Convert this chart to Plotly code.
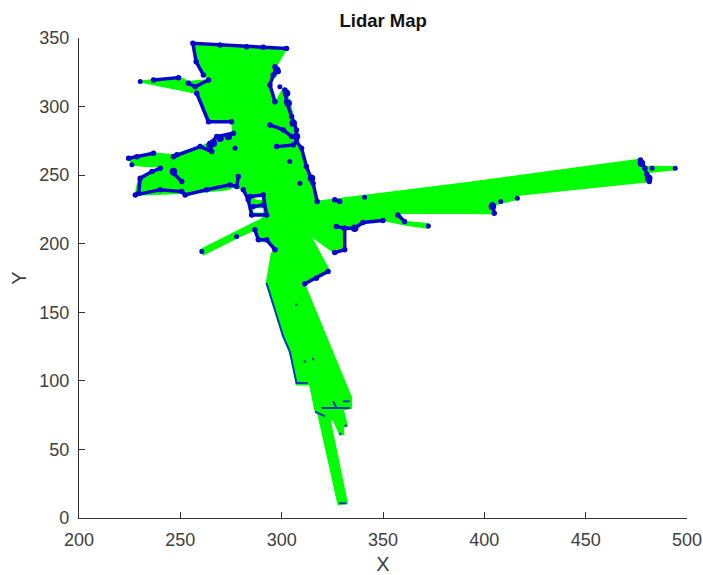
import plotly.graph_objects as go

title_text = "Lidar Map"
x_ticks = [200, 250, 300, 350, 400, 450, 500]
y_ticks = [0, 50, 100, 150, 200, 250, 300, 350]

# scanned free space outline
free_x = [256.2, 302.4, 296.7, 297.5, 293.4, 296.7, 300.8, 304, 305.7, 308.1, 312.2, 317.2,
          392.6, 477, 479.5, 494.2, 494.2, 480.3, 481.1,
          417.2, 416.3, 416.3, 408, 404.9, 404.9, 392.6, 358.1, 360.6, 372.4, 372.4, 360.6, 350.8,
          340.1, 335.2, 331.1, 331.1, 326.2, 313.9, 323.7, 318, 311.4,
          334.4, 334.4, 330.3, 332.3, 330.3, 330.6, 328.7, 325.4, 323.8, 332.3, 327.9, 318, 316.4,
          313.9, 307.4, 305.7, 300, 292.5, 295, 296.6, 295, 289.3, 286.8, 278.6, 261.4, 259.8,
          289.3, 292.6, 285.2, 283.5, 281.1, 277, 272.9, 253.2, 250.7, 227.8, 229.4, 236, 240.1,
          233.5, 226.1, 224.5, 236.8, 245.8, 259.8, 276.2, 275.3, 263.9, 258.1, 229.4, 236.8,
          249.1, 254, 263.9, 257.3]
free_y = [346.1, 342.4, 327.9, 323, 315.7, 302.4, 313.3, 303.6, 292.7, 273.2, 256.3, 230.8,
          244.6, 261.6, 256.4, 256, 254, 252, 245.3,
          235.6, 234, 232.5, 229.5, 228, 221.8, 222.3, 222.3, 216.2, 214.5, 211.3, 213.8, 216.9,
          216.2, 210.6, 210.6, 195.6, 193.1, 206.5, 179.8, 176.1, 170.1,
          87.5, 80.2, 79, 66.9, 66.9, 60.8, 60.8, 71.7, 71.7, 11, 9.8, 75.4, 79,
          97.2, 97.2, 113, 137.3, 171.3, 193.1, 195.6, 201.6, 201.6, 210.1, 204.8, 191.9, 195.6,
          217.4, 221, 221, 232, 239.3, 241.7, 239.3, 236.8, 236.8, 235.6, 247.8, 252.6, 256.3,
          256.3, 257.5, 262.3, 266, 264.8, 270.8, 280.5, 289, 289, 309.7, 318.2, 319.4,
          321.8, 318.2, 319.4, 332.7]

# unscanned pockets inside the outline
pocket_x = [286.8, 290.9, 290.9, 286.8, None, 286, 290.9, 290.9, 286, None]
pocket_y = [235.6, 235.6, 232, 232, None, 225.9, 225.9, 222.8, 222.8, None]

# lidar hits: obstacle walls, None breaks a run
wall_x = [302.4, 290.9, 282.7, 269.6, 256.2, 257.8, 261.4, None,
          275.3, 263.9, 258.1, None,
          254, 257.3, 263.9, None,
          236.8, 249.1, None,
          296.7, 298.3, 295.8, 294.2, 296.7, None,
          301.6, 302.4, 304.9, 307.3, 307.3, 309.8, 312.2, 315.5, 317.5, None,
          297.5, 305.7, None,
          294.2, 300.8, 304.9, None,
          276.2, 268, 264.7, 265.5, 259.8, 248.3, 246.6, None,
          224.5, 228.6, 236.8, None,
          240.1, 236, 230.2, 229.4, 227.8, 240.1, 250.7, 252.4, 263, 274.5, 277.8, 278.6, None,
          246.6, 250.7, None,
          281.1, 283.5, 285.2, 292.6, 290.9, 284.4, None,
          286, 290.9, None,
          286.8, 288.5, 292.6, 296.7, None,
          326.2, 328.6, None,
          327, 331.1, 336, 340.1, 350, None,
          331.1, 331.1, 326.2, None,
          357.3, 360.6, None,
          322.9, 317.1, 311.4, None,
          477, 479.2, 480.3, 481.4, None,
          404, 404.9, None]
wall_y = [342.4, 343.2, 343.7, 344.9, 346.1, 332.7, 323, None,
          289, 289, 309.7, None,
          317, 314.5, 319.4, None,
          319.4, 321.1, None,
          329.1, 325.5, 323, 315.7, 303.6, None,
          312.1, 303.6, 292.7, 283, 274.5, 269.6, 256.3, 244.1, 230.8, None,
          270.8, 272, None,
          286.6, 283, 278.1, None,
          280.5, 278.1, 273.2, 267.2, 270.8, 264.8, 263.5, None,
          262.3, 263.5, 266, None,
          255, 252.6, 247.8, 236.8, 235.6, 239.3, 238, 235.6, 239.3, 242.9, 241.7, 249, None,
          251.4, 245.3, None,
          239.3, 232, 221, 221, 235.6, 234.4, None,
          227.1, 228.3, None,
          210.1, 202.8, 202.8, 195.6, None,
          232, 230.8, None,
          212.6, 211.3, 211.3, 215.5, 216.9, None,
          211.3, 195.6, 193.6, None,
          221, 216.2, None,
          179.8, 174.9, 170.8, None,
          261.1, 255, 250.2, 245.3, None,
          228.4, 222.3, None]

# fainter walls along the lower corridor
thin_x = [292.5, 296.6, 300.7, 304, 305.7, 307.3, 313, None,
          316.4, 321.3, None, 319.7, 333.6, None, 325.4, 327, None, 330.3, 333.6, None,
          328.4, 332]
thin_y = [171.3, 151.9, 132.4, 121.5, 108.1, 98.4, 98.4, None,
          77.5, 74.2, None, 80.2, 80.2, None, 85.1, 80.2, None, 85.1, 85.1, None,
          11, 10.6]

# isolated lidar hits
hit_x = [230.2, 260.6, 277, 299.1, 226.1, 304, 309, 340.9, 372.4,
         482.8, 494.2, 416.3, 408.1, 277.8]
hit_y = [318.2, 194.3, 269.6, 314.5, 257.5, 259.9, 244.1, 233.9, 213,
         255, 255, 233.2, 230.8, 205.3]

# denser clusters of hits
cluster_x = [264.7, 266.3, 269.6, 273.7, 302.4, 303.2, 305.7, 307.3, 314.7, 297.5, 246.6, 336,
             481.1, 477.5, 404]
cluster_y = [272, 273.2, 276.9, 278.1, 309.7, 302.4, 287.8, 278.1, 247.8, 326.7, 252.6, 211.3,
             247.8, 258.7, 227.2]

# small specks in the corridor and finger tips
speck_x = [307.3, 311.4, 315.5, 331.6, 329]
speck_y = [155.5, 114.2, 115.9, 67.4, 61.3]

GREEN = "#00ff00"
BLUE = "#0505cc"
GREY = "#404040"

fig = go.Figure()
fig.add_trace(go.Scatter(x=free_x, y=free_y, mode="lines", fill="toself", fillcolor=GREEN,
                         line=dict(color=GREEN, width=1.5), hoverinfo="skip", showlegend=False))
fig.add_trace(go.Scatter(x=pocket_x, y=pocket_y, mode="lines", fill="toself", fillcolor="white",
                         line=dict(color="white", width=0), hoverinfo="skip", showlegend=False))
fig.add_trace(go.Scatter(x=thin_x, y=thin_y, mode="lines", line=dict(color="#0a3cb4", width=2),
                         showlegend=False))
fig.add_trace(go.Scatter(x=wall_x, y=wall_y, mode="lines+markers",
                         line=dict(color=BLUE, width=3.5),
                         marker=dict(color=BLUE, size=5.5), showlegend=False))
fig.add_trace(go.Scatter(x=hit_x, y=hit_y, mode="markers",
                         marker=dict(color=BLUE, size=5), showlegend=False))
fig.add_trace(go.Scatter(x=cluster_x, y=cluster_y, mode="markers",
                         marker=dict(color=BLUE, size=7.5), showlegend=False))
fig.add_trace(go.Scatter(x=speck_x, y=speck_y, mode="markers",
                         marker=dict(color="#0a3cb4", size=2.5), showlegend=False))

axis_common = dict(showgrid=False, zeroline=False, showline=True, linecolor="#333333", linewidth=1.2,
                   ticks="inside", ticklen=6, tickwidth=1, tickcolor="#333333", ticklabeloverflow="allow",
                   tickfont=dict(family="Liberation Sans", size=18, color=GREY))

fig.update_xaxes(range=[200, 500], tickvals=x_ticks, ticklabelstandoff=5, **axis_common,
                 title=dict(text="X", font=dict(family="Liberation Sans", size=20, color=GREY), standoff=14))
fig.update_yaxes(range=[0, 350], tickvals=y_ticks, ticklabelstandoff=5, **axis_common,
                 title=dict(text="Y", font=dict(family="Liberation Sans", size=20, color=GREY), standoff=7))

fig.update_layout(
    width=703, height=575, plot_bgcolor="white", paper_bgcolor="white",
    margin=dict(l=78.5, r=15.7, t=38, b=56.5, autoexpand=False),
    title=dict(text="<b>" + title_text + "</b>", x=0.545, xanchor="center", y=0.9635, yanchor="middle",
               font=dict(family="Liberation Sans", size=18.5, color="#111111")),
)
fig.write_html("out.html", config={"displayModeBar": False},
               post_script="document.body.style.margin='0';document.documentElement.style.overflow='hidden';")
